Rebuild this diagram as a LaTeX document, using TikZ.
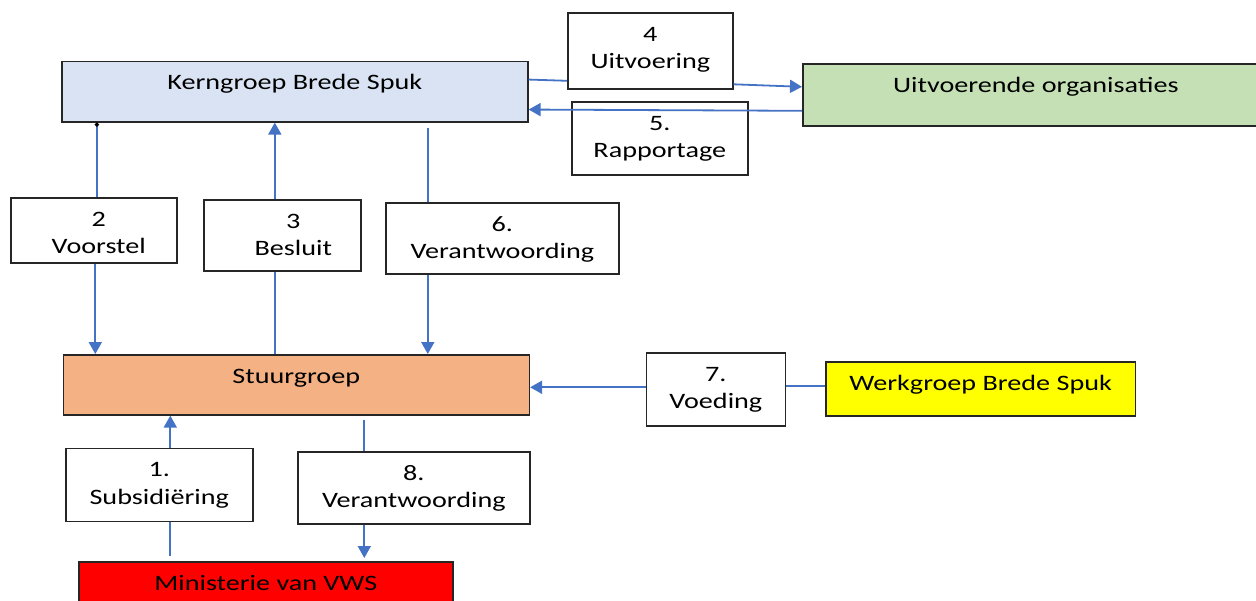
\documentclass[tikz,border=0pt]{standalone}
\usepackage{fontspec}
\setmainfont{Carlito}[FakeStretch=1.28]
\usetikzlibrary{arrows.meta}
\definecolor{kernblue}{HTML}{DAE3F3}
\definecolor{orggreen}{HTML}{C5E0B4}
\definecolor{stuurorange}{HTML}{F4B183}
\definecolor{werkyellow}{HTML}{FFFF00}
\definecolor{minired}{HTML}{FF0000}
\definecolor{linkblue}{HTML}{4472C4}
\tikzstyle{box}=[
	 rectangle, draw=black!85, line width=1.6pt,
	 anchor=north west, inner sep=0pt
    ]
\tikzstyle{lbl}=[anchor=base, yshift=-29pt, inner sep=0pt, align=center,
	 font=\fontsize{22}{27.5}\selectfont]
\tikzstyle{lbltwo}=[lbl, yshift=-27.5pt]
\tikzstyle{flow}=[draw=linkblue, line width=1.8pt]
\tikzstyle{flowto}=[flow, -{Triangle[length=12pt,width=13pt]}]

\begin{document}
\begin{tikzpicture}[x=1pt,y=-1pt]
\clip (0,0) rectangle (1256,600);

% groups
\node[box, fill=kernblue, minimum width=466pt, minimum height=60.5pt, label={[lbl]north:Kerngroep Brede Spuk}] (kern) at (61,60.5) {};
\node[box, fill=orggreen, minimum width=466pt, minimum height=62pt, label={[lbl]north:Uitvoerende organisaties}] (org) at (802,63) {};
\node[box, fill=stuurorange, minimum width=466pt, minimum height=60pt, label={[lbl]north:Stuurgroep}] (stuur) at (62.5,354) {};
\node[box, fill=werkyellow, minimum width=309.5pt, minimum height=54pt, label={[lbl]north:Werkgroep Brede Spuk}] (werk) at (825,361) {};
\node[box, fill=minired, minimum width=374pt, minimum height=60pt, label={[lbl]north:Ministerie van VWS}] (mini) at (78,561) {};

% steps
\node[box, fill=white, minimum width=187pt, minimum height=73pt, label={[lbltwo]north:1.\\Subsidiëring}] (subs) at (65,447.5) {};
\node[box, fill=white, minimum width=166pt, minimum height=65pt, label={[lbltwo, xshift=5pt]north:2\\Voorstel}] (voorstel) at (10,197) {};
\node[box, fill=white, minimum width=157pt, minimum height=71pt, label={[lbltwo, xshift=11pt]north:3\\Besluit}] (besluit) at (203,199) {};
\node[box, fill=white, minimum width=165pt, minimum height=76pt, label={[lbltwo]north:4\\Uitvoering}] (uitv) at (567,12) {};
\node[box, fill=white, minimum width=176pt, minimum height=73pt, label={[lbltwo]north:5.\\Rapportage}] (rapp) at (571,101) {};
\node[box, fill=white, minimum width=233pt, minimum height=71pt, label={[lbltwo]north:6.\\Verantwoording}] (verantA) at (385,202) {};
\node[box, fill=white, minimum width=139pt, minimum height=73pt, label={[lbltwo]north:7.\\Voeding}] (voeding) at (645.5,352) {};
\node[box, fill=white, minimum width=232pt, minimum height=72pt, label={[lbltwo]north:8.\\Verantwoording}] (verantB) at (297,451) {};

% kern <-> org
\draw[flow] ([yshift=12pt]kern.east) -- ([yshift=-30pt]uitv.west);
\draw[flowto] ([yshift=-33.5pt]uitv.east) -- ([yshift=8pt]org.west);
\draw[flowto] ([yshift=-16pt]org.west) -- ([yshift=-18pt]kern.east);

% kern <-> stuur
\draw[flow, -{Circle[length=4pt, color=black]}] ([xshift=3pt]voorstel.north) -- ([xshift=3pt]voorstel.north |- kern.south);
\draw[flowto] ([xshift=1.5pt]voorstel.south) -- ([xshift=1.5pt]voorstel.south |- stuur.north);
\draw[flowto] ([xshift=-7.5pt]besluit.north) -- ([xshift=-7.5pt]besluit.north |- kern.south);
\draw[flow] ([xshift=-7.5pt]besluit.south) -- ([xshift=-7.5pt]besluit.south |- stuur.north);
\draw[flow, shorten >=5pt] ([xshift=-74.5pt]verantA.north) -- ([xshift=-74.5pt]verantA.north |- kern.south);
\draw[flowto] ([xshift=-74.5pt]verantA.south) -- ([xshift=-74.5pt]verantA.south |- stuur.north);

% werk -> stuur
\draw[flow] ([yshift=2.5pt]werk.west) -- ([yshift=3pt]voeding.east);
\draw[flowto] ([yshift=2pt]voeding.west) -- ([yshift=2pt]voeding.west -| stuur.east);

% mini <-> stuur
\draw[flow, shorten >=5pt] ([xshift=11pt]subs.south) -- ([xshift=11pt]subs.south |- mini.north);
\draw[flowto] ([xshift=11pt]subs.north) -- ([xshift=11pt]subs.north |- stuur.south);
\draw[flow, shorten >=4pt] ([xshift=-49.5pt]verantB.north) -- ([xshift=-49.5pt]verantB.north |- stuur.south);
\draw[flowto, shorten >=3pt] ([xshift=-49.5pt]verantB.south) -- ([xshift=-49.5pt]verantB.south |- mini.north);

\end{tikzpicture}
\end{document}
